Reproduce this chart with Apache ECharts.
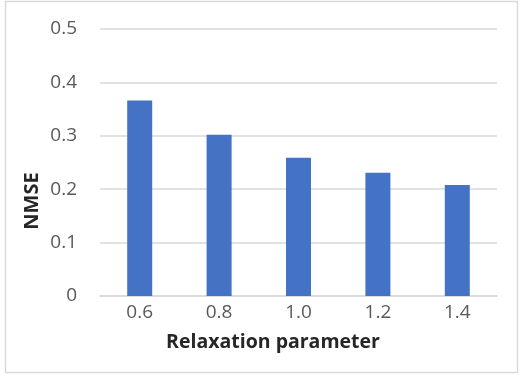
<!DOCTYPE html>
<html><head><meta charset="utf-8">
<script src="https://cdn.jsdelivr.net/npm/echarts@6/dist/echarts.min.js"></script>
<style>html,body{margin:0;padding:0;background:#fff}#c{width:522px;height:376px}</style>
</head><body><div id="c"></div>
<script>
const categories = ['0.6', '0.8', '1.0', '1.2', '1.4'];
const nmseValues = [0.366, 0.302, 0.259, 0.231, 0.208];
const xAxisTitle = 'Relaxation parameter';
const yAxisTitle = 'NMSE';

const chart = echarts.init(document.getElementById('c'), null, {renderer: 'canvas'});
chart.setOption({
  animation: false,
  backgroundColor: '#fff',
  grid: {left: 100, right: 25, top: 29, bottom: 80},
  graphic: [
    {type: 'rect', shape: {x: 5.5, y: 1.5, width: 512, height: 371}, style: {fill: 'none', stroke: '#d9d9d9', lineWidth: 1.5}, silent: true},
    {type: 'text', x: 273, y: 342, style: {text: xAxisTitle, font: 'bold 19.5px "Open Sans"', fill: '#262626', align: 'center', verticalAlign: 'middle'}},
    {type: 'text', x: 32, y: 201, rotation: Math.PI / 2, style: {text: yAxisTitle, font: 'bold 20px "Open Sans"', fill: '#262626', align: 'center', verticalAlign: 'middle'}}
  ],
  xAxis: {
    type: 'category', data: categories,
    axisLine: {lineStyle: {color: '#d9d9d9', width: 1.5}},
    axisTick: {show: false},
    axisLabel: {color: '#595959', fontSize: 19, fontFamily: 'Open Sans', margin: 7}
  },
  yAxis: {
    type: 'value', min: 0, max: 0.5, interval: 0.1,
    axisLine: {show: false}, axisTick: {show: false},
    splitLine: {lineStyle: {color: '#d9d9d9', width: 1.5}},
    axisLabel: {color: '#595959', fontSize: 19, fontFamily: 'Open Sans', margin: 23,
      formatter: v => v === 0 ? '0' : v.toFixed(1)}
  },
  series: [{
    type: 'bar', data: nmseValues, barWidth: 25,
    itemStyle: {color: '#4472c4'}
  }]
});
</script></body></html>
